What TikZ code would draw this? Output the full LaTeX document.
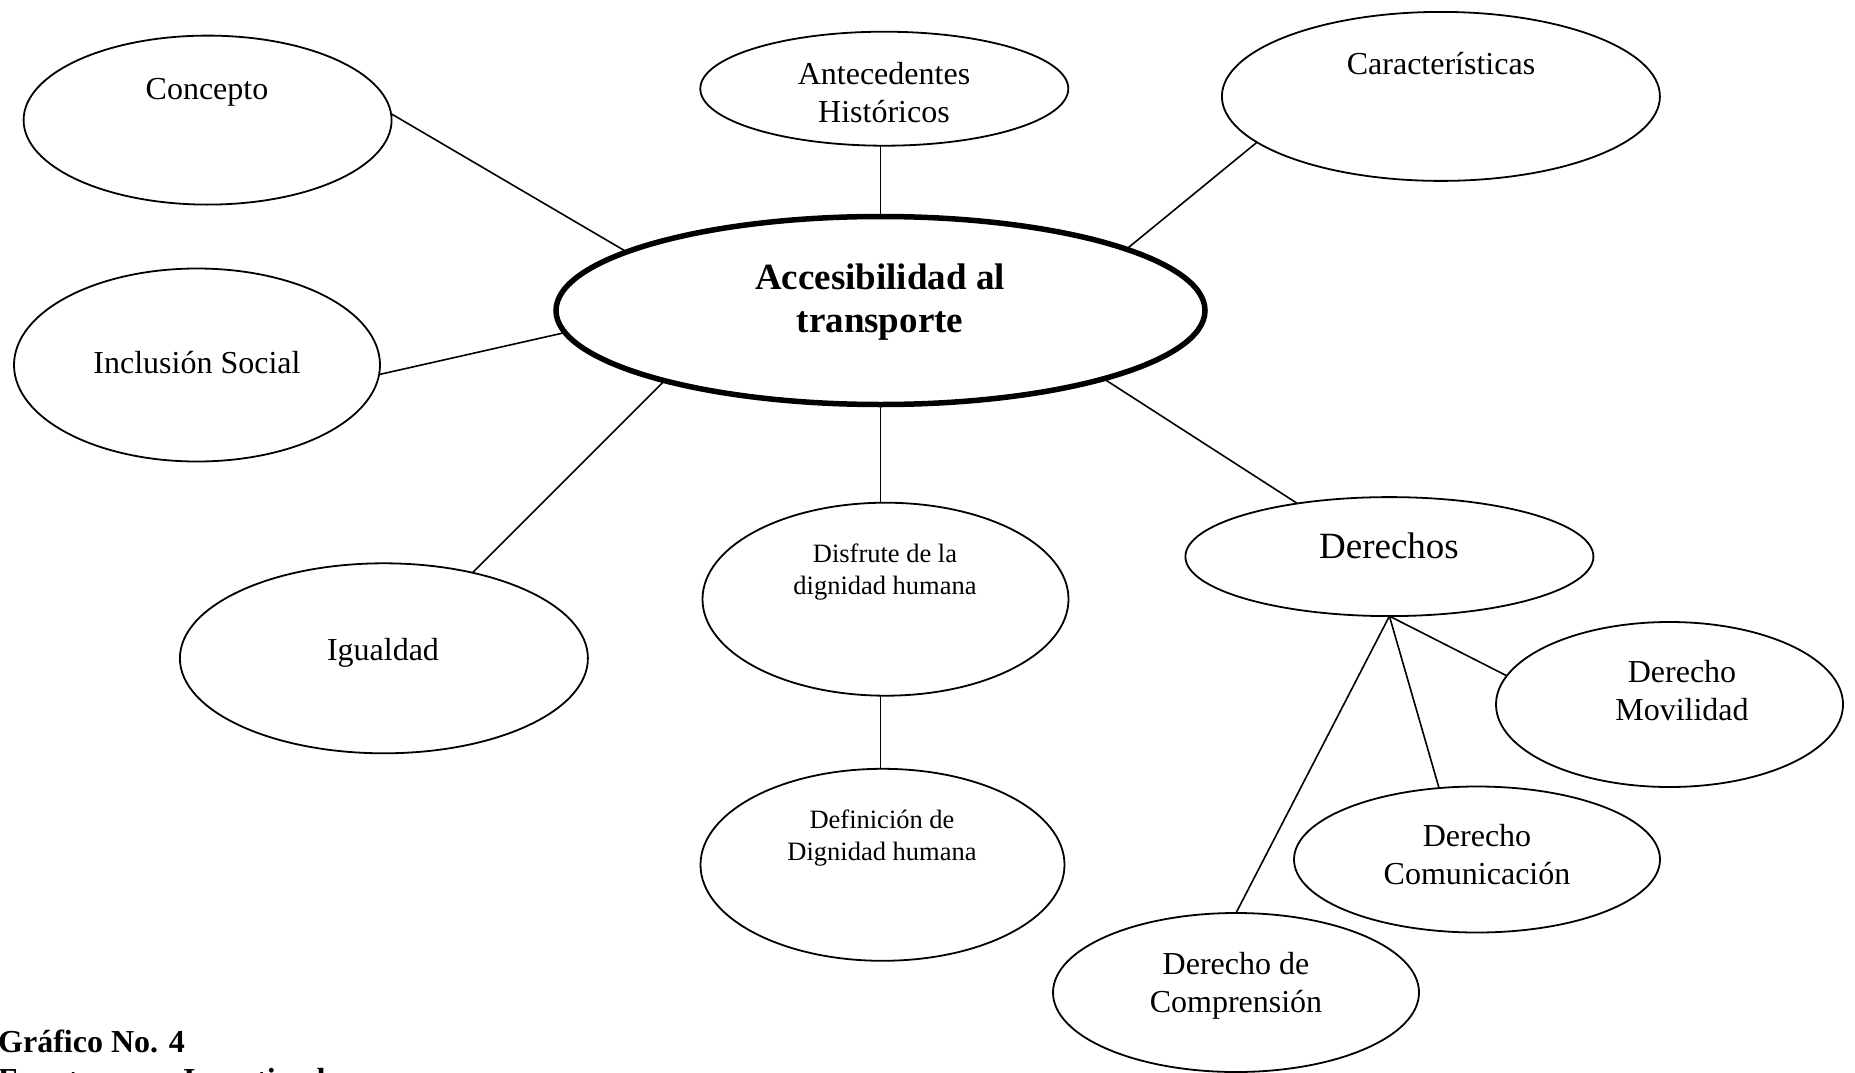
\documentclass[tikz,border=0pt]{standalone}
\usepackage{fontspec}
\setmainfont{Liberation Serif}
\usetikzlibrary{shapes.geometric}
\begin{document}
\begin{tikzpicture}[x=1pt,y=-1pt,
  bubble/.style={draw, ellipse, line width=1.8pt, inner sep=0pt, outer sep=0pt},
  hub/.style={bubble, line width=5.5pt},
  link/.style={line width=1.6pt},
  txt/.style={font=\fontsize{32}{38}\selectfont, align=center, inner sep=0pt},
  smalltxt/.style={font=\fontsize{26.5}{32}\selectfont, align=center, inner sep=0pt},
  bigtxt/.style={font=\fontsize{37}{42.6}\selectfont, align=center, inner sep=0pt},
  note/.style={font=\bfseries\fontsize{32}{38}\selectfont, anchor=base west, inner sep=0pt},
]
\useasboundingbox (0,0) rectangle (1855,1073);

% central topic
\node[hub, minimum width=649pt, minimum height=188pt] (cen) at (880.5,310.5) {};
\node[bigtxt, font=\bfseries\fontsize{37}{42.6}\selectfont] (cen-t) at (880,302) {Accesibilidad al\\transporte};

% surrounding topics
\node[bubble, minimum width=368pt, minimum height=169pt] (con) at (207.6,120.1) {};
\node[txt] (con-t) at (207,92.5) {Concepto};

\node[bubble, minimum width=368pt, minimum height=114pt] (ant) at (884.3,88.7) {};
\node[txt] (ant-t) at (884,93) {Antecedentes\\Históricos};

\node[bubble, minimum width=438pt, minimum height=169pt] (car) at (1440.9,96.4) {};
\node[txt] (car-t) at (1441,64) {Características};

\node[bubble, minimum width=366pt, minimum height=193pt] (inc) at (197,365) {};
\node[txt] (inc-t) at (197,362.5) {Inclusión Social};

\node[bubble, minimum width=408pt, minimum height=190pt] (igu) at (383.9,658.3) {};
\node[txt] (igu-t) at (383,653) {Igualdad};

\node[bubble, minimum width=366pt, minimum height=193pt] (dis) at (885.5,599.2) {};
\node[smalltxt] (dis-t) at (885,572.5) {Disfrute de la\\dignidad humana};

\node[bubble, minimum width=364pt, minimum height=192pt] (def) at (882.5,864.8) {};
\node[smalltxt] (def-t) at (882,838.5) {Definición de\\Dignidad humana};

\node[bubble, minimum width=408pt, minimum height=119pt] (der) at (1389.4,556.6) {};
\node[bigtxt] (der-t) at (1389,546) {Derechos};

% rights
\node[bubble, minimum width=347pt, minimum height=165pt] (mov) at (1669.5,704.5) {};
\node[txt] (mov-t) at (1682,691) {Derecho\\Movilidad};

\node[bubble, minimum width=366pt, minimum height=146pt] (com) at (1477,859.5) {};
\node[txt] (com-t) at (1477,854.5) {Derecho\\Comunicación};

\node[bubble, minimum width=366pt, minimum height=159pt] (cmp) at (1236,992.5) {};
\node[txt] (cmp-t) at (1236,985.5) {Derecho de\\Comprensión};

% connectors
\draw[link] (con.2) -- (cen.167.2);
\draw[link] (cen.north |- ant.south) -- (cen.north);
\draw[link] (car.194.5) -- (cen.14.6);
\draw[link] (inc.-3.1) -- (cen.184);
\draw[link] (igu.44.6) -- (cen.198.6);
\draw[link] (cen.south) -- (cen.south |- dis.north);
\draw[link] (cen.-17.1) -- (der.150.2);
\draw[link] (cen.south |- dis.south) -- (cen.south |- def.north);
\draw[link] (der.south) -- (mov.170.4);
\draw[link] (der.south) -- (com.118.6);
\draw[link] (der.south) -- (cmp.north);

% caption
\node[note] (fig) at (-2,1052) {Gráfico No. 4};
\node[note] (src) at (-2,1090) {Fuente:};
\node[note] (src-name) at (183,1090) {Investigador};
\end{tikzpicture}
\end{document}
